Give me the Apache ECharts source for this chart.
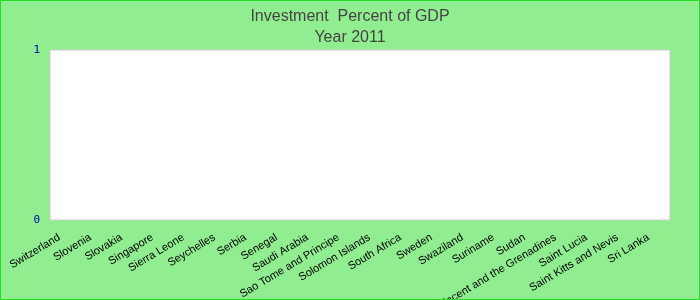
<!DOCTYPE html>
<html>
<head>
<meta charset="utf-8">
<script src="https://cdn.jsdelivr.net/npm/echarts@6/dist/echarts.min.js"></script>
<style>
html,body{margin:0;padding:0;background:#90EE90;}
#c{width:700px;height:300px;}
</style>
</head>
<body>
<div id="c"></div>
<script>
const categories = ["Switzerland","Slovenia","Slovakia","Singapore","Sierra Leone","Seychelles","Serbia","Senegal","Saudi Arabia","Sao Tome and Principe","Solomon Islands","South Africa","Sweden","Swaziland","Suriname","Sudan","Saint Vincent and the Grenadines","Saint Lucia","Saint Kitts and Nevis","Sri Lanka"];
const values = [0,0,0,0,0,0,0,0,0,0,0,0,0,0,0,0,0,0,0,0];
const yTicks = [0, 1];

const chart = echarts.init(document.getElementById('c'), null, {renderer:'canvas'});
chart.setOption({
  backgroundColor: '#90EE90',
  animation: false,
  title: {
    text: 'Investment  Percent of GDP\nYear 2011',
    left: 'center',
    top: 1,
    textStyle: {fontFamily: 'Liberation Sans, Arial', fontSize: 16, fontWeight: 'normal', color: '#444444', lineHeight: 21}
  },
  graphic: [{
    type: 'rect', silent: true, z: 100,
    shape: {x: 0.5, y: 0.5, width: 699, height: 299},
    style: {fill: null, stroke: '#22dd22', lineWidth: 1}
  }],
  grid: {left: 50, right: 30, top: 50, bottom: 80, containLabel: false, outerBoundsMode: 'none', show: true, backgroundColor: '#ffffff', borderColor: '#cccccc', borderWidth: 1},
  xAxis: {
    type: 'category',
    data: categories,
    axisLine: {show: false},
    axisTick: {show: false},
    axisLabel: {interval: 0, rotate: 31, fontSize: 11, color: '#000', fontFamily: 'Liberation Sans, Arial', margin: 13, padding: [0, 7, 0, 0]}
  },
  yAxis: {
    type: 'value',
    min: yTicks[0],
    max: yTicks[yTicks.length - 1],
    interval: 1,
    splitLine: {show: false},
    axisLine: {show: false},
    axisTick: {show: false},
    axisLabel: {color: '#0000aa', fontSize: 11, fontFamily: 'DejaVu Sans Mono, monospace', margin: 10, padding: [0, 0, 2, 0]}
  },
  series: [{type: 'bar', data: values, itemStyle: {color: '#4472c4'}}]
});
</script>
</body>
</html>
